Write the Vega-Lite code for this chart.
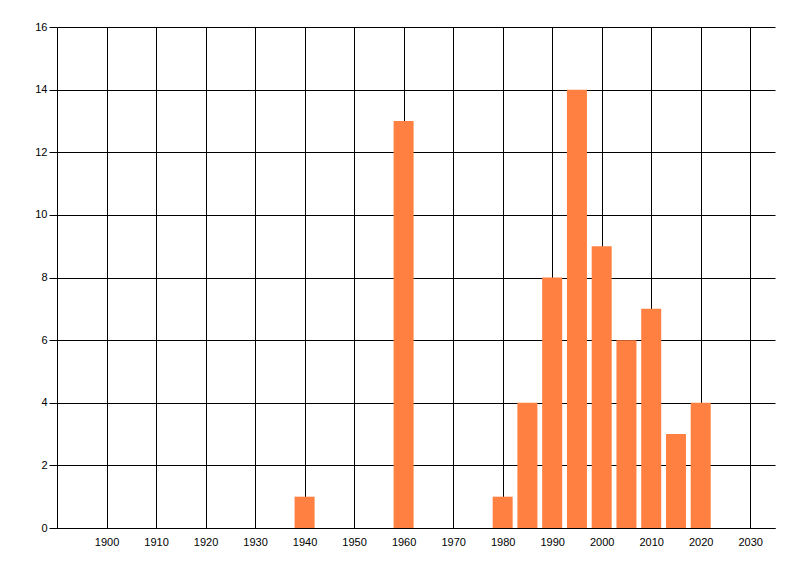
{
  "$schema": "https://vega.github.io/schema/vega-lite/v6.json",
  "width": 718,
  "height": 501,
  "autosize": {"type": "none"},
  "padding": {"left": 57, "top": 27, "right": 25, "bottom": 48},
  "background": "white",
  "config": {"view": {"stroke": null}},
  "data": {
    "values": [
      {"year": 1940, "count": 1},
      {"year": 1960, "count": 13},
      {"year": 1980, "count": 1},
      {"year": 1985, "count": 4},
      {"year": 1990, "count": 8},
      {"year": 1995, "count": 14},
      {"year": 2000, "count": 9},
      {"year": 2005, "count": 6},
      {"year": 2010, "count": 7},
      {"year": 2015, "count": 3},
      {"year": 2020, "count": 4}
    ]
  },
  "mark": {"type": "bar", "width": 20, "color": "#FF8040"},
  "encoding": {
    "x": {
      "field": "year",
      "type": "quantitative",
      "scale": {"domain": [1890, 2035], "nice": false, "zero": false, "padding": 0},
      "axis": {
        "title": null,
        "values": [1900, 1910, 1920, 1930, 1940, 1950, 1960, 1970, 1980, 1990, 2000, 2010, 2020, 2030],
        "format": "d",
        "grid": true,
        "gridColor": "black",
        "gridOpacity": 1,
        "gridWidth": 1,
        "domainColor": "black",
        "domainWidth": 1,
        "ticks": false,
        "labelPadding": 8,
        "labelFont": "Liberation Sans",
        "labelFontSize": 11,
        "labelColor": "black"
      }
    },
    "y": {
      "field": "count",
      "type": "quantitative",
      "scale": {"domain": [0, 16], "nice": false},
      "axis": {
        "title": null,
        "values": [0, 2, 4, 6, 8, 10, 12, 14, 16],
        "grid": true,
        "gridColor": "black",
        "gridOpacity": 1,
        "gridWidth": 1,
        "domainColor": "black",
        "domainWidth": 1,
        "tickColor": "black",
        "tickSize": 8,
        "labelPadding": 2,
        "labelFont": "Liberation Sans",
        "labelFontSize": 11,
        "labelColor": "black"
      }
    }
  }
}
